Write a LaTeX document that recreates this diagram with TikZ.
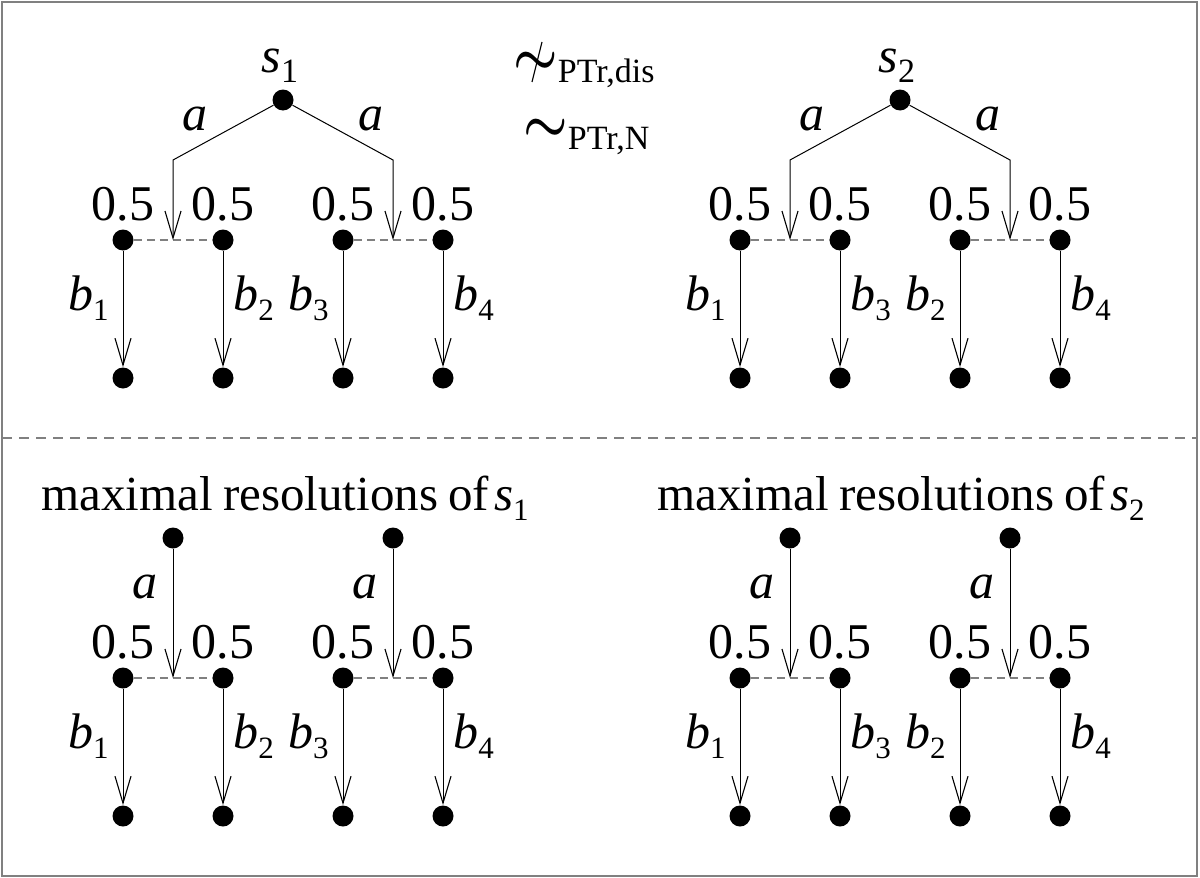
\documentclass[tikz,border=0pt]{standalone}
\usepackage{amsmath}
\usepackage{fontspec}
\setmainfont{Liberation Serif}
\usetikzlibrary{arrows.meta}

% one unit = one pixel of a 1200 x 878 canvas, y pointing down
\tikzset{
  x=0.5pt, y=-0.5pt,
  dot/.style={circle, fill=black, inner sep=0pt, minimum size=10.5pt},
  edge/.style={draw=black, line width=0.5pt,
    -{Straight Barb[length=13.5pt, width=8pt, line width=0.55pt]}},
  prob/.style={draw=gray, line width=0.6pt, dash pattern=on 4pt off 2.5pt},
  txt/.style={font=\fontsize{25}{30}\selectfont, inner sep=0pt},
  ttl/.style={font=\fontsize{24.5}{30}\selectfont, inner sep=0pt},
  frame/.style={draw=gray, line width=0.8pt},
  sep/.style={draw=gray, line width=0.6pt, dash pattern=on 5pt off 3.5pt},
  slash/.style={draw=black, line width=0.6pt},
}

\newcommand\mysubs[1]{\raisebox{-5pt}{\fontsize{15.5}{18}\selectfont #1}}
\newcommand\mylab[2]{\textit{#1}\mysubs{#2}}
\newcommand\myrelsub[1]{\raisebox{-4pt}{\fontsize{17}{20}\selectfont #1}}
\newcommand\mytilde{\scalebox{1.0}[1.15]{$\boldsymbol{\sim}$}}

% \fan{prefix}{left x}{right x}{y}{left label index}{right label index}
% two probabilistic branches (0.5 / 0.5) joined by a dashed line,
% each followed by a b-transition to a leaf
\newcommand\fan[6]{%
  \node[dot] (#1l) at (#2,#4) {};
  \node[dot] (#1r) at (#3,#4) {};
  \coordinate (#1c) at ({(#2+#3)/2},#4);
  \draw[prob] (#1l) -- (#1r);
  \node[dot] (#1ll) at (#2,#4+138) {};
  \node[dot] (#1rl) at (#3,#4+138) {};
  \draw[edge] (#1l) -- (#1ll);
  \draw[edge] (#1r) -- (#1rl);
  \node[txt, anchor=base] at (#2,#4-20) {0.5};
  \node[txt, anchor=base] at (#3,#4-20) {0.5};
  \node[txt, anchor=base east] at (#2-14,#4+70) {\mylab{b}{#5}};
  \node[txt, anchor=base west] at (#3+10,#4+70) {\mylab{b}{#6}};
}

\begin{document}
\begin{tikzpicture}
\useasboundingbox (0,0) rectangle (1200,878);
\draw[frame] (2,2) rectangle (1197,876);
\draw[sep] (2,438) -- (1197,438);

% ---- s1 ----
\node[dot] (s1) at (283,100) {};
\node[txt, anchor=base] at (280,72) {\textit{s}\raisebox{-5pt}{\fontsize{17}{20}\selectfont 1}};
\fan{A}{123}{223}{240}{1}{2}
\fan{B}{343}{443}{240}{3}{4}
\draw[edge] (s1) -- ([yshift=40pt]Ac) -- (Ac);
\draw[edge] (s1) -- ([yshift=40pt]Bc) -- (Bc);
\node[txt, anchor=base] at (195,130) {\textit{a}};
\node[txt, anchor=base] at (371,130) {\textit{a}};

% ---- s2 ----
\node[dot] (s2) at (900,100) {};
\node[txt, anchor=base] at (897,72) {\textit{s}\raisebox{-5pt}{\fontsize{17}{20}\selectfont 2}};
\fan{C}{740}{840}{240}{1}{3}
\fan{D}{960}{1060}{240}{2}{4}
\draw[edge] (s2) -- ([yshift=40pt]Cc) -- (Cc);
\draw[edge] (s2) -- ([yshift=40pt]Dc) -- (Dc);
\node[txt, anchor=base] at (812,130) {\textit{a}};
\node[txt, anchor=base] at (988,130) {\textit{a}};

% ---- relations ----
\node[txt, anchor=base west] (neq) at (513,74)
  {\mytilde\myrelsub{PTr,dis}};
\draw[slash] (542,42) -- (532,82);
\node[txt, anchor=base west] (eq) at (523,141)
  {\mytilde\myrelsub{PTr,N}};

% ---- maximal resolutions ----
\node[ttl, anchor=base] (t1) at (285,510)
  {\spaceskip=0.21em maximal resolutions of\hspace{0.1em}\mylab{s}{1}};
\node[ttl, anchor=base] (t2) at (901,510)
  {\spaceskip=0.21em maximal resolutions of\hspace{0.1em}\mylab{s}{2}};

\node[dot] (r1) at (173,538) {};
\node[dot] (r2) at (393,538) {};
\node[dot] (r3) at (790,538) {};
\node[dot] (r4) at (1010,538) {};
\fan{E}{123}{223}{678}{1}{2}
\fan{F}{343}{443}{678}{3}{4}
\fan{G}{740}{840}{678}{1}{3}
\fan{H}{960}{1060}{678}{2}{4}
\draw[edge] (r1) -- (Ec);
\draw[edge] (r2) -- (Fc);
\draw[edge] (r3) -- (Gc);
\draw[edge] (r4) -- (Hc);
\node[txt, anchor=base] at (145,598) {\textit{a}};
\node[txt, anchor=base] at (365,598) {\textit{a}};
\node[txt, anchor=base] at (762,598) {\textit{a}};
\node[txt, anchor=base] at (982,598) {\textit{a}};
\end{tikzpicture}
\end{document}
